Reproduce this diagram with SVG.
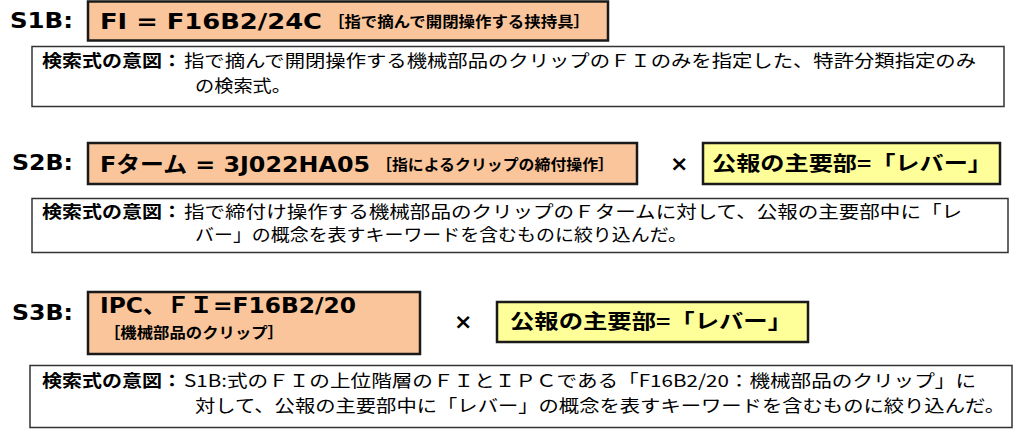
<svg xmlns="http://www.w3.org/2000/svg" width="1024" height="433" viewBox="0 0 1024 433">
<style>
.lbl{font-family:"DejaVu Sans","Noto Sans CJK JP",sans-serif;font-weight:bold;font-size:21px;fill:#000}
.bx{fill:#FAC59A;stroke:#1a1a1a;stroke-width:2.5}
.yb{fill:#FFFF99;stroke:#1a1a1a;stroke-width:2.5}
.desc{fill:#fff;stroke:#333;stroke-width:1.5}
.big{font-family:"DejaVu Sans","Noto Sans CJK JP",sans-serif;font-weight:bold;font-size:22px;fill:#000}
.sm{font-family:"Noto Sans CJK JP",sans-serif;font-weight:bold;font-size:15px;fill:#000}
.jb{font-family:"Noto Sans CJK JP",sans-serif;font-weight:bold;font-size:20px;fill:#000}
.dh{font-family:"Noto Sans CJK JP",sans-serif;font-weight:bold;font-size:17px;fill:#000}
.dt{font-family:"Noto Sans CJK JP",sans-serif;font-size:17px;fill:#000}
.x{font-family:"DejaVu Sans",sans-serif;font-weight:bold;font-size:22px;fill:#000}
</style>
<g id="s1b">
<text class="lbl" x="10" y="28" textLength="63" lengthAdjust="spacingAndGlyphs">S1B:</text>
<rect class="bx" x="88" y="1.5" width="520" height="39"/>
<text class="big" x="100" y="29" textLength="222" lengthAdjust="spacingAndGlyphs">FI = F16B2/24C</text>
<text class="sm" x="328" y="27" textLength="262" lengthAdjust="spacingAndGlyphs">［指で摘んで開閉操作する挟持具］</text>
</g>
<g id="s1b-desc">
<rect class="desc" x="32" y="46.5" width="972" height="60"/>
<text class="dh" x="42" y="67" textLength="140" lengthAdjust="spacingAndGlyphs">検索式の意図：</text>
<text class="dt" x="184" y="67" textLength="792" lengthAdjust="spacingAndGlyphs">指で摘んで開閉操作する機械部品のクリップのＦＩのみを指定した、特許分類指定のみ</text>
<text class="dt" x="195" y="92" textLength="96" lengthAdjust="spacingAndGlyphs">の検索式。</text>
</g>
<g id="s2b">
<text class="lbl" x="12" y="170" textLength="61" lengthAdjust="spacingAndGlyphs">S2B:</text>
<rect class="bx" x="88" y="143" width="549" height="41"/>
<text class="big" x="100" y="172" textLength="270" lengthAdjust="spacingAndGlyphs">Fターム = 3J022HA05</text>
<text class="sm" x="376" y="170" textLength="238" lengthAdjust="spacingAndGlyphs">［指によるクリップの締付操作］</text>
</g>
<g id="s2b-key">
<rect class="yb" x="703" y="143" width="297" height="41"/>
<text class="jb" x="712" y="171" textLength="280" lengthAdjust="spacingAndGlyphs">公報の主要部=「レバー」</text>
</g>
<g id="s2b-desc">
<rect class="desc" x="32" y="198.5" width="976" height="54"/>
<text class="dh" x="42" y="218" textLength="140" lengthAdjust="spacingAndGlyphs">検索式の意図：</text>
<text class="dt" x="184" y="218" textLength="778" lengthAdjust="spacingAndGlyphs">指で締付け操作する機械部品のクリップのＦタームに対して、公報の主要部中に「レ</text>
<text class="dt" x="195" y="241" textLength="492" lengthAdjust="spacingAndGlyphs">バー」の概念を表すキーワードを含むものに絞り込んだ。</text>
</g>
<g id="s3b">
<text class="lbl" x="12" y="320" textLength="61" lengthAdjust="spacingAndGlyphs">S3B:</text>
<rect class="bx" x="88" y="292" width="332" height="62"/>
<text class="big" x="100" y="313" textLength="256" lengthAdjust="spacingAndGlyphs">IPC、ＦＩ=F16B2/20</text>
<text class="sm" x="104" y="338" textLength="180" lengthAdjust="spacingAndGlyphs">［機械部品のクリップ］</text>
</g>
<g id="s3b-key">
<rect class="yb" x="497" y="302" width="311" height="40"/>
<text class="jb" x="510" y="329" textLength="282" lengthAdjust="spacingAndGlyphs">公報の主要部=「レバー」</text>
</g>
<g id="s3b-desc">
<rect class="desc" x="30" y="365.5" width="982" height="62"/>
<text class="dh" x="42" y="387" textLength="140" lengthAdjust="spacingAndGlyphs">検索式の意図：</text>
<text class="dt" x="184" y="387" textLength="792" lengthAdjust="spacingAndGlyphs">S1B:式のＦＩの上位階層のＦＩとＩＰＣである「F16B2/20：機械部品のクリップ」に</text>
<text class="dt" x="195" y="412" textLength="810" lengthAdjust="spacingAndGlyphs">対して、公報の主要部中に「レバー」の概念を表すキーワードを含むものに絞り込んだ。</text>
</g>
<g id="connectors">
<text class="x" x="670" y="171">×</text>
<text class="x" x="454" y="329">×</text>
</g>
</svg>
